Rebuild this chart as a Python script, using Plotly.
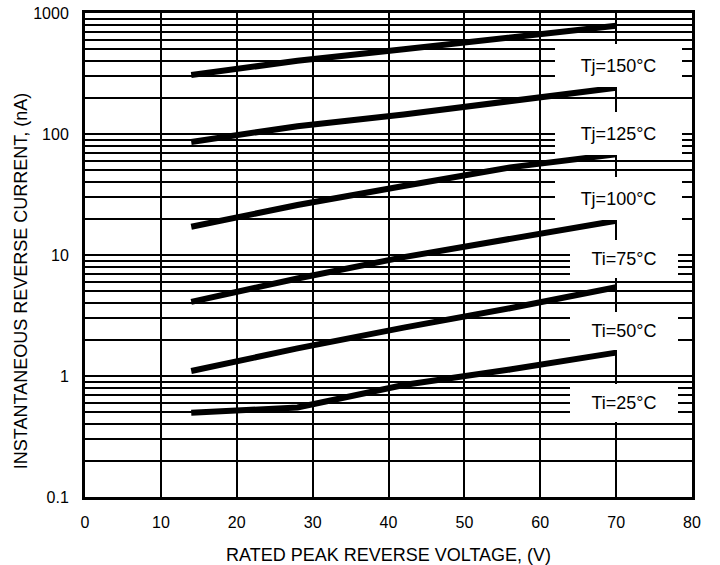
import plotly.graph_objects as go

# ---- data ----
voltage = [14, 28, 42, 56, 70]
voltage_25 = [14, 21, 28, 42, 56, 70]
tj150 = [307, 403, 501, 630, 785]
tj125 = [86, 116, 145, 187, 241]
tj100 = [17.1, 25.9, 37.2, 53, 68]
ti75 = [4.1, 6.4, 9.6, 13.5, 19.2]
ti50 = [1.1, 1.69, 2.51, 3.63, 5.41]
ti25 = [0.497, 0.52, 0.549, 0.843, 1.13, 1.56]

curve_names = ["Tj=150°C", "Tj=125°C", "Tj=100°C", "Ti=75°C", "Ti=50°C", "Ti=25°C"]
curve_x = [voltage, voltage, voltage, voltage, voltage, voltage_25]
curve_y = [tj150, tj125, tj100, ti75, ti50, ti25]

# label placement (x in data units, y in log10 units)
label_x = [70.3, 70.3, 70.3, 71.0, 71.0, 71.0]
label_logy = [2.566, 2.004, 1.467, 0.967, 0.372, -0.227]
label_w = [127, 127, 127, 108, 108, 108]
label_h = [43, 43, 43, 38, 38, 38]

x_ticks = [0, 10, 20, 30, 40, 50, 60, 70, 80]
decades = [0.1, 1, 10, 100, 1000]
decade_labels = ["0.1", "1", "10", "100", "1000"]

x_title = "RATED PEAK REVERSE VOLTAGE, (V)"
y_title = "INSTANTANEOUS REVERSE CURRENT, (nA)"

# all 1..9 grid values per decade
y_grid = []
y_text = []
for d, lab in zip(decades[:-1], decade_labels[:-1]):
    for m in range(1, 10):
        y_grid.append(round(d * m, 6))
        y_text.append(lab if m == 1 else "")
y_grid.append(decades[-1])
y_text.append(decade_labels[-1])

FONT = "Liberation Sans, Arial, sans-serif"

fig = go.Figure()
for xs, ys, nm in zip(curve_x, curve_y, curve_names):
    fig.add_trace(go.Scatter(x=xs, y=ys, mode="lines", name=nm,
                             line=dict(color="black", width=6),
                             showlegend=False, hoverinfo="skip"))

for nm, lx, ly, w, h in zip(curve_names, label_x, label_logy, label_w, label_h):
    fig.add_annotation(x=lx, y=ly, xref="x", yref="y", text=nm, showarrow=False,
                       bgcolor="white", width=w, height=h, borderpad=0,
                       borderwidth=0, align="center", valign="middle",
                       font=dict(family=FONT, size=18, color="black"))

# axis titles
fig.add_annotation(x=0.5, y=-0.12, xref="paper", yref="paper", text=x_title,
                   showarrow=False, xanchor="center", yanchor="middle",
                   font=dict(family=FONT, size=18, color="black"))
fig.add_annotation(x=-0.1054, y=0.446, xref="paper", yref="paper", text=y_title,
                   showarrow=False, xanchor="center", yanchor="middle", textangle=-90,
                   font=dict(family=FONT, size=18, color="black"))

fig.update_xaxes(range=[0, 80], tickmode="array", tickvals=x_ticks,
                 showgrid=True, gridcolor="black", gridwidth=2,
                 showline=True, linecolor="black", linewidth=3, mirror=True,
                 zeroline=False, ticks="", ticklabelstandoff=9,
                 ticklabeloverflow="allow",
                 tickfont=dict(family=FONT, size=16, color="black"))
fig.update_yaxes(type="log", range=[-1, 3], tickmode="array", tickvals=y_grid,
                 ticktext=y_text,
                 showgrid=True, gridcolor="black", gridwidth=2,
                 showline=True, linecolor="black", linewidth=3, mirror=True,
                 zeroline=False, ticks="", ticklabelstandoff=10,
                 ticklabeloverflow="allow",
                 tickfont=dict(family=FONT, size=16, color="black"))

fig.update_layout(width=720, height=565,
                  margin=dict(l=85, r=28, t=13, b=68, autoexpand=False),
                  plot_bgcolor="white", paper_bgcolor="white")

fig.write_html("out.html", config={"displayModeBar": False},
               post_script="document.body.style.margin='0';document.body.style.overflow='hidden';")
